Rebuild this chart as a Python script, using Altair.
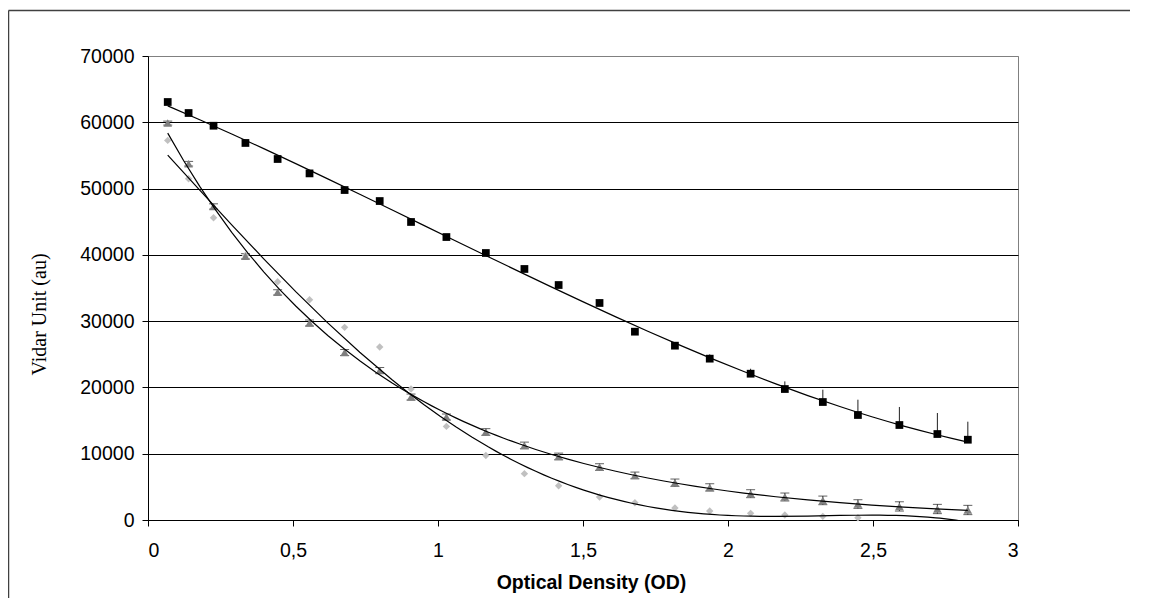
import altair as alt
import pandas as pd

# ---- data ----
od = [0.068, 0.140, 0.226, 0.336, 0.447, 0.557, 0.678, 0.799, 0.907, 1.029, 1.165, 1.298,
      1.416, 1.557, 1.679, 1.817, 1.937, 2.078, 2.196, 2.327, 2.448, 2.591, 2.722, 2.827]

square_vals = [63060, 61400, 59480, 56880, 54460, 52290, 49780, 48120, 44960, 42690, 40280, 37870,
               35450, 32740, 28410, 26300, 24340, 22070, 19760, 17800, 15840, 14330, 12970, 12110]
square_err = [200, 200, 200, 250, 250, 300, 300, 300, 350, 350, 400, 400,
              450, 500, 500, 550, 650, 750, 1150, 1860, 2310, 2720, 3170, 2720]

triangle_vals = [59880, 53750, 47300, 39780, 34340, 29720, 25270, 22560, 18550, 15540, 13280, 11250,
                 9590, 7990, 6730, 5630, 4920, 3970, 3470, 2960, 2410, 2050, 1660, 1510]
triangle_err = [300, 350, 400, 400, 400, 450, 450, 450, 450, 450, 500, 500,
                500, 500, 500, 550, 550, 600, 600, 650, 650, 700, 700, 700]

diamond_od = od[:21]
diamond_vals = [57270, 51490, 45600, 39900, 35950, 33230, 29060, 26100, 19760, 14120, 9740, 6990,
                5170, 3470, 2600, 1810, 1350, 1000, 750, 550, 350]

x_ticks = [0, 0.5, 1, 1.5, 2, 2.5, 3]
y_ticks = [0, 10000, 20000, 30000, 40000, 50000, 60000, 70000]

sq = pd.DataFrame({"od": od, "v": square_vals,
                   "hi": [v + e for v, e in zip(square_vals, square_err)]})
tri = pd.DataFrame({"od": od, "v": triangle_vals,
                    "lo": [v - e for v, e in zip(triangle_vals, triangle_err)],
                    "hi": [v + e for v, e in zip(triangle_vals, triangle_err)]})
dia = pd.DataFrame({"od": diamond_od, "v": diamond_vals})
frame_df = pd.DataFrame({"k": [0]})

FONT = "Liberation Sans"
FS = 19.5

x_axis = alt.Axis(values=x_ticks, grid=False, labelExpr="replace(toString(datum.value), '.', ',')",
                  labelFont=FONT, labelFontSize=FS, labelColor="black", labelBaseline="alphabetic",
                  labelPadding=30, tickSize=6, tickColor="black", domainColor="black",
                  title="Optical Density (OD)", titleFont=FONT, titleFontSize=FS, titleFontWeight="bold",
                  titleColor="black", titleX=443, titleY=68, titleBaseline="alphabetic", titleAlign="center")
y_axis = alt.Axis(values=y_ticks, grid=True, format="d",
                  gridColor={"condition": {"test": "datum.value === 70000", "value": "#808080"}, "value": "black"},
                  gridWidth=1, gridOpacity=1,
                  labelFont=FONT, labelFontSize=FS, labelColor="black", labelPadding=8,
                  tickSize=6, tickColor="black", domainColor="black",
                  title="Vidar Unit (au)", titleFont="Liberation Serif", titleFontSize=20,
                  titleFontWeight="normal", titleColor="black", titleX=-103, titleY=258,
                  titleBaseline="alphabetic", titleAlign="center", titleAngle=270)

xs = alt.Scale(domain=[0, 3], nice=False)
ys = alt.Scale(domain=[0, 70000], nice=False)


def X(field="od"):
    return alt.X(f"{field}:Q", scale=xs, axis=x_axis)


def Y(field="v"):
    return alt.Y(f"{field}:Q", scale=ys, axis=y_axis)


# outer frame (top and left edges visible in the reference)
frame_top = alt.Chart(frame_df).mark_rule(color="#404040", strokeWidth=1.5).encode(
    x=alt.value(-139.5), x2=alt.value(1100), y=alt.value(-45.5))
frame_left = alt.Chart(frame_df).mark_rule(color="#404040", strokeWidth=1.5).encode(
    x=alt.value(-139.5), y=alt.value(-45.5), y2=alt.value(560))

# error bars
sq_err_rule = alt.Chart(sq).mark_rule(color="#202020", strokeWidth=1).encode(
    x=X(), y=Y("v"), y2="hi:Q")
tri_err_rule = alt.Chart(tri).mark_rule(color="#202020", strokeWidth=1).encode(
    x=X(), y=Y("lo"), y2="hi:Q")
tri_cap_hi = alt.Chart(tri).mark_tick(color="#202020", orient="horizontal", size=9, thickness=1).encode(
    x=X(), y=Y("hi"))
tri_cap_lo = alt.Chart(tri).mark_tick(color="#202020", orient="horizontal", size=9, thickness=1).encode(
    x=X(), y=Y("lo"))

# markers
dia_pts = alt.Chart(dia).mark_point(shape="diamond", filled=True, color="#c0c0c0", size=55, opacity=1).encode(
    x=X(), y=Y())
tri_pts = alt.Chart(tri).mark_point(shape="triangle-up", filled=True, color="#7f7f7f", size=75, opacity=1).encode(
    x=X(), y=Y())
sq_pts = alt.Chart(sq).mark_point(shape="square", filled=True, color="black", size=60, opacity=1).encode(
    x=X(), y=Y())

# trend lines fitted by Vega-Lite's regression transform
sq_fit = alt.Chart(sq).transform_regression("od", "v", method="poly", order=3).mark_line(
    color="black", strokeWidth=1.2, clip=True).encode(x=X(), y=Y())
tri_fit = alt.Chart(tri).transform_regression("od", "v", method="exp").mark_line(
    color="black", strokeWidth=1.2, clip=True).encode(x=X(), y=Y())
dia_fit = alt.Chart(dia).transform_regression("od", "v", method="poly", order=4,
                                              extent=[0.068, 2.827]).mark_line(
    color="black", strokeWidth=1.2, clip=True).encode(x=X(), y=Y())

chart = alt.layer(
    frame_top, frame_left, sq_err_rule, tri_err_rule, tri_cap_hi, tri_cap_lo,
    dia_pts, tri_pts, sq_pts, sq_fit, tri_fit, dia_fit
).properties(
    width=870, height=464,
    autosize=alt.AutoSizeParams(type="none"),
    padding={"left": 140, "top": 48, "right": 112, "bottom": 78},
    background="white",
).configure_view(stroke="#808080", strokeWidth=1)

chart.save("out.html", embed_options={"renderer": "svg", "actions": False})
